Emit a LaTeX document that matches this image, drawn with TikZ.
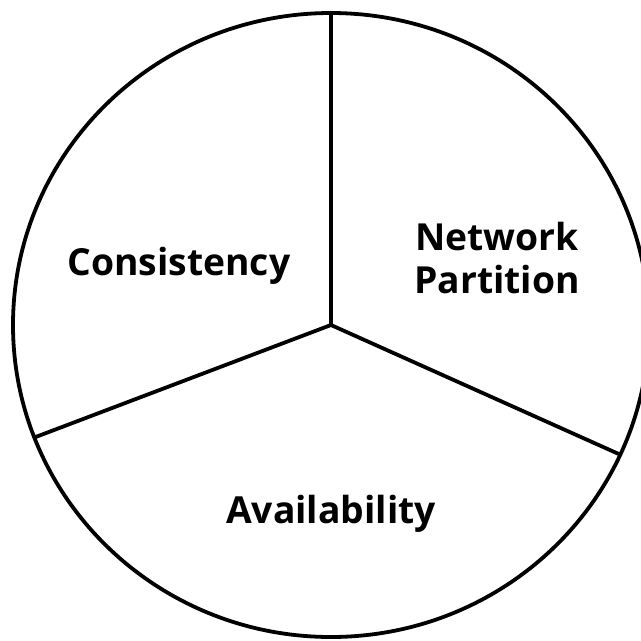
\documentclass[tikz,border=0pt]{standalone}
\usepackage{fontspec}
\setmainfont{Open Sans}
\tikzset{
  part/.style={line width=2.7pt},
  label/.style={font=\fontsize{26.5}{30.5}\selectfont\bfseries, inner sep=0pt}
}
\begin{document}
\begin{tikzpicture}[x=0.025cm,y=-0.025cm]
 \useasboundingbox (0,0) rectangle (641,641);
 \coordinate (c) at (331,325);
 \coordinate (top) at (331,14);
 \coordinate (left) at (33,438);
 \coordinate (right) at (621,455);
 \draw[part] (c) ellipse[x radius=318, y radius=312];
 \draw[part] (c)--(top);
 \draw[part] (c)--(left);
 \draw[part] (c)--(right);
 \node[label,anchor=base] (cons) at (179,275) {Consistency};
 \node[label,align=center] (net) at (497,258) {Network\\Partition};
 \node[label,anchor=base] (avail) at (331,523) {Availability};
\end{tikzpicture}
\end{document}
